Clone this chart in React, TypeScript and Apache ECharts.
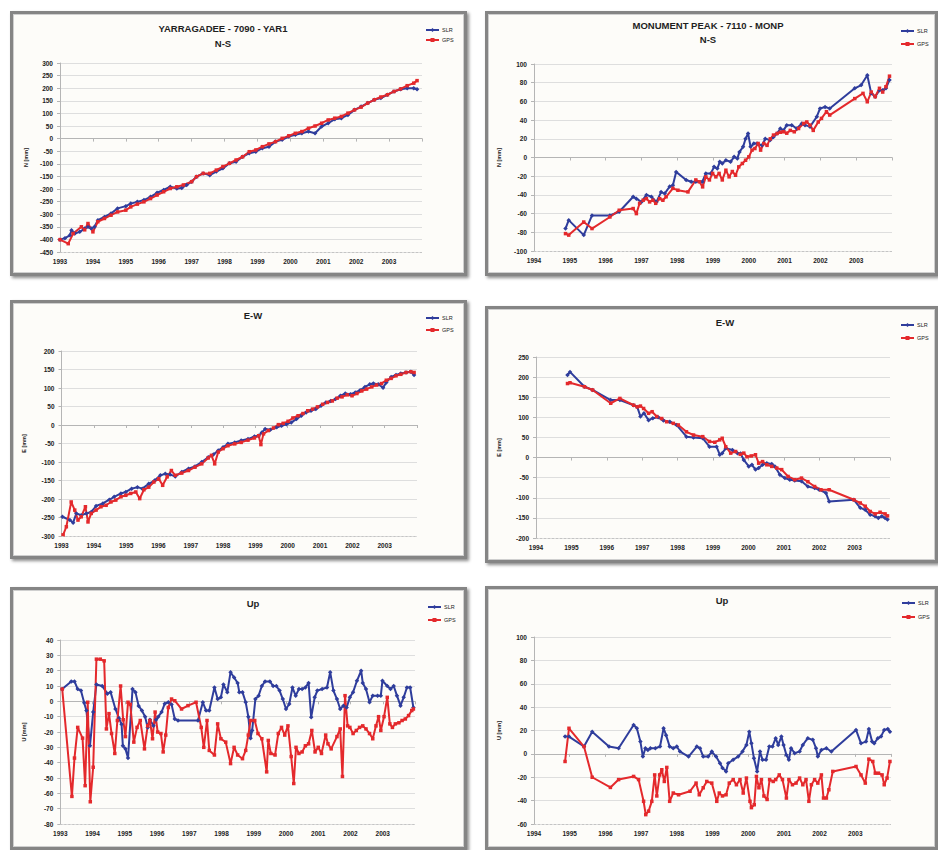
import React, { useEffect, useRef } from "react";
import * as echarts from "echarts";

// ---------- DATA ----------
const seriesNames = ["SLR", "GPS"];

const yarNsSlr = [[1993.0,-401],[1993.15,-395],[1993.3,-384],[1993.35,-364],[1993.45,-377],[1993.6,-370],[1993.75,-357],[1993.85,-350],[1993.95,-357],[1994.05,-350],[1994.15,-324],[1994.35,-311],[1994.55,-297],[1994.75,-277],[1995.0,-268],[1995.15,-258],[1995.35,-251],[1995.55,-244],[1995.75,-231],[1995.95,-215],[1996.15,-204],[1996.35,-191],[1996.55,-198],[1996.7,-196],[1996.85,-184],[1997.0,-171],[1997.15,-151],[1997.35,-138],[1997.55,-145],[1997.75,-131],[1997.95,-118],[1998.15,-98],[1998.35,-92],[1998.55,-72],[1998.75,-58],[1998.95,-52],[1999.15,-38],[1999.35,-32],[1999.55,-12],[1999.75,-5],[1999.95,8],[2000.15,15],[2000.35,21],[2000.55,28],[2000.75,21],[2000.95,48],[2001.15,61],[2001.35,77],[2001.55,81],[2001.75,94],[2001.95,114],[2002.15,127],[2002.35,141],[2002.55,154],[2002.75,161],[2002.95,174],[2003.15,187],[2003.35,196],[2003.55,200],[2003.75,200],[2003.85,196]];
const yarNsGps = [[1993.0,-401],[1993.25,-417],[1993.4,-377],[1993.65,-350],[1993.75,-362],[1993.85,-337],[1994.0,-370],[1994.15,-330],[1994.35,-317],[1994.55,-304],[1994.75,-291],[1995.0,-284],[1995.15,-271],[1995.35,-260],[1995.55,-251],[1995.75,-238],[1995.95,-224],[1996.15,-211],[1996.35,-198],[1996.55,-191],[1996.75,-184],[1997.0,-171],[1997.15,-151],[1997.35,-138],[1997.55,-138],[1997.75,-125],[1997.95,-111],[1998.15,-98],[1998.35,-85],[1998.55,-72],[1998.75,-52],[1998.95,-45],[1999.15,-32],[1999.35,-21],[1999.55,-12],[1999.75,1],[1999.95,11],[2000.15,21],[2000.35,28],[2000.55,41],[2000.75,50],[2000.95,61],[2001.15,74],[2001.35,81],[2001.55,88],[2001.75,101],[2001.95,114],[2002.15,125],[2002.35,141],[2002.55,154],[2002.75,165],[2002.95,174],[2003.15,187],[2003.35,197],[2003.55,210],[2003.75,220],[2003.85,230]];

const monpNsSlr = [[1994.88,-76],[1994.97,-67],[1995.39,-83],[1995.62,-62],[1996.12,-62],[1996.38,-58],[1996.77,-42],[1996.86,-44],[1997.0,-47.5],[1997.14,-40],[1997.28,-42],[1997.42,-47.5],[1997.55,-37],[1997.65,-38.6],[1997.79,-31],[1997.88,-29.6],[1997.97,-15.4],[1998.25,-24],[1998.39,-26],[1998.52,-26],[1998.7,-26],[1998.8,-17],[1998.94,-17],[1999.03,-10],[1999.12,-11.8],[1999.19,-4.6],[1999.26,-6.4],[1999.36,-2.9],[1999.49,-4.6],[1999.59,0.7],[1999.68,-1],[1999.74,6],[1999.84,11.4],[1999.91,20],[1999.98,25.7],[2000.05,11.4],[2000.14,15],[2000.23,15],[2000.37,13],[2000.46,20],[2000.6,18.6],[2000.69,22],[2000.79,25.7],[2000.88,31],[2000.97,29],[2001.06,34.6],[2001.2,34.6],[2001.34,31],[2001.48,36.4],[2001.57,34.6],[2001.71,33],[2001.9,43.6],[2001.99,52.5],[2002.13,54],[2002.26,52.5],[2002.96,74],[2003.14,77.5],[2003.31,88],[2003.42,68.6],[2003.53,65],[2003.65,72],[2003.74,72],[2003.83,74],[2003.93,83]];
const monpNsGps = [[1994.88,-81.4],[1994.97,-83],[1995.39,-69],[1995.62,-76],[1996.12,-63.6],[1996.38,-56.4],[1996.77,-54.6],[1996.86,-60],[1996.95,-49],[1997.05,-45.7],[1997.14,-44],[1997.23,-47.5],[1997.32,-45.7],[1997.4,-49],[1997.51,-44],[1997.6,-45.7],[1997.69,-42],[1997.88,-33],[1998.02,-35],[1998.3,-36.8],[1998.52,-24],[1998.62,-26],[1998.71,-31.4],[1998.8,-20.7],[1998.9,-24],[1998.99,-17],[1999.08,-20.7],[1999.17,-17],[1999.26,-24],[1999.36,-13.6],[1999.45,-20.7],[1999.54,-15],[1999.63,-19],[1999.72,-10],[1999.82,-6.4],[1999.91,-2.9],[2000.0,0.7],[2000.09,7.9],[2000.17,9.6],[2000.26,15],[2000.33,7.9],[2000.42,15],[2000.51,13],[2000.6,20],[2000.69,24],[2000.79,25.7],[2000.88,27],[2000.97,27.5],[2001.06,26],[2001.16,29],[2001.27,27.5],[2001.39,31],[2001.53,36.4],[2001.62,38],[2001.71,34.6],[2001.8,29],[2001.94,38],[2002.03,41.8],[2002.17,49],[2002.26,45.4],[2002.96,63],[2003.19,68.6],[2003.31,59.6],[2003.42,70],[2003.53,65],[2003.65,74],[2003.74,70],[2003.83,75.7],[2003.93,87]];

const yarEwSlr = [[1993.03,-248],[1993.26,-257],[1993.36,-264],[1993.46,-239],[1993.61,-244],[1993.77,-239],[1993.92,-235],[1994.07,-219],[1994.28,-212],[1994.48,-202],[1994.63,-194],[1994.84,-185],[1994.99,-181],[1995.17,-172],[1995.35,-168],[1995.5,-172],[1995.7,-159],[1995.88,-150],[1996.06,-136],[1996.21,-132],[1996.36,-134],[1996.52,-139],[1996.72,-127],[1996.93,-118],[1997.13,-112],[1997.34,-100],[1997.54,-87],[1997.7,-80],[1997.85,-69],[1998.0,-60],[1998.15,-51],[1998.36,-47],[1998.56,-42],[1998.77,-38],[1998.97,-31],[1999.1,-29],[1999.2,-20],[1999.3,-11],[1999.46,-13],[1999.66,-6],[1999.81,-2],[1999.96,2],[2000.11,7],[2000.27,16],[2000.42,25],[2000.57,34],[2000.72,38.5],[2000.87,43],[2001.03,52],[2001.18,61],[2001.33,65],[2001.48,70],[2001.63,79],[2001.78,85],[2001.94,83],[2002.09,88],[2002.24,94],[2002.39,103],[2002.54,110],[2002.65,112],[2002.8,110],[2002.95,101],[2003.05,115],[2003.2,130],[2003.35,135],[2003.5,139],[2003.66,142],[2003.81,144],[2003.91,135]];
const yarEwGps = [[1993.05,-297],[1993.15,-275],[1993.3,-208],[1993.41,-230],[1993.51,-257],[1993.61,-248],[1993.74,-221],[1993.82,-262],[1993.92,-239],[1994.07,-230],[1994.22,-221],[1994.38,-217],[1994.53,-208],[1994.68,-203],[1994.84,-194],[1994.99,-190],[1995.14,-185],[1995.3,-181],[1995.42,-199],[1995.55,-175],[1995.7,-168],[1995.86,-154],[1996.01,-145],[1996.13,-163],[1996.27,-140],[1996.4,-123],[1996.52,-136],[1996.72,-130],[1996.93,-123],[1997.13,-114],[1997.34,-105],[1997.54,-89],[1997.64,-82],[1997.74,-105],[1997.85,-73],[1998.0,-64],[1998.15,-56],[1998.36,-51],[1998.56,-47],[1998.77,-41],[1998.97,-35],[1999.1,-29],[1999.17,-53],[1999.25,-24],[1999.4,-15],[1999.56,-8],[1999.71,1],[1999.86,4.5],[2000.01,10],[2000.16,19],[2000.32,25],[2000.47,31],[2000.62,38.5],[2000.77,43],[2000.92,49],[2001.08,56],[2001.23,61],[2001.38,65],[2001.53,72.6],[2001.68,76],[2001.84,81.5],[2001.99,79],[2002.14,85],[2002.29,92],[2002.44,97],[2002.6,103],[2002.75,108],[2002.9,112],[2003.05,121],[2003.2,126],[2003.35,133],[2003.5,137],[2003.66,142],[2003.81,144],[2003.91,142]];

const monpEwSlr = [[1994.89,205],[1994.96,213],[1995.37,176],[1995.6,168],[1996.11,143],[1996.37,143],[1996.76,130],[1996.86,126],[1996.95,102],[1997.05,110],[1997.18,93],[1997.3,98],[1997.45,100],[1997.6,92],[1997.78,89],[1997.97,81],[1998.25,52],[1998.45,50],[1998.71,48],[1998.9,27],[1999.1,27],[1999.19,7],[1999.26,11],[1999.36,23],[1999.55,19],[1999.69,11],[1999.78,10],[1999.87,-6],[2000.01,-22],[2000.1,-18],[2000.2,-30],[2000.29,-26],[2000.4,-18],[2000.52,-14],[2000.66,-16],[2000.75,-22],[2000.89,-43],[2001.03,-51],[2001.17,-55],[2001.31,-57],[2001.5,-59],[2001.68,-72],[2001.87,-76],[2002.0,-80],[2002.19,-88],[2002.28,-109],[2002.98,-105],[2003.16,-125],[2003.3,-130],[2003.44,-142],[2003.58,-146],[2003.67,-150],[2003.77,-146],[2003.86,-150],[2003.93,-154]];
const monpEwGps = [[1994.89,184],[1994.96,186],[1995.37,176],[1995.6,168],[1996.11,135],[1996.37,147],[1996.76,130],[1996.86,126],[1996.95,128],[1997.04,122],[1997.18,110],[1997.28,114],[1997.41,102],[1997.55,97],[1997.69,89],[1997.88,85],[1998.02,81],[1998.25,64],[1998.45,56],[1998.71,52],[1998.9,40],[1999.05,38],[1999.19,44],[1999.26,48],[1999.36,27],[1999.5,11],[1999.64,15],[1999.77,8],[1999.87,11],[1999.96,2],[2000.08,4],[2000.2,7],[2000.29,-14],[2000.4,-10],[2000.52,-18],[2000.66,-22],[2000.8,-26],[2000.94,-30],[2001.12,-47],[2001.31,-55],[2001.5,-51],[2001.68,-60],[2001.87,-72],[2002.05,-80],[2002.28,-80],[2002.98,-105],[2003.16,-113],[2003.3,-121],[2003.44,-134],[2003.58,-140],[2003.72,-136],[2003.86,-140],[2003.93,-145]];

const yarUpSlr = [[1993.06,8],[1993.34,13],[1993.44,13],[1993.54,8],[1993.64,7],[1993.74,-1],[1993.81,-6],[1993.92,-29],[1994.02,-7],[1994.12,11],[1994.3,10],[1994.46,5],[1994.56,6],[1994.71,-5],[1994.82,-11],[1994.9,-15],[1994.94,-29],[1995.02,-31],[1995.1,-37],[1995.24,8],[1995.33,6],[1995.43,-3],[1995.53,-6],[1995.63,-10],[1995.71,-17],[1995.78,-12],[1995.89,-16],[1995.97,-12],[1996.04,-10],[1996.14,-7],[1996.24,-1.5],[1996.35,-0.6],[1996.45,-2],[1996.55,-11.5],[1996.65,-12.5],[1997.27,-12.5],[1997.42,-0.6],[1997.52,-6],[1997.62,-6],[1997.78,9],[1997.88,1.5],[1997.98,2.6],[1998.06,11],[1998.18,6],[1998.28,19],[1998.39,15.5],[1998.5,12],[1998.55,6],[1998.65,6],[1998.75,-0.6],[1998.83,-10],[1998.9,-24],[1998.95,-19],[1999.05,1.5],[1999.15,3.7],[1999.25,10],[1999.35,13],[1999.5,13],[1999.6,10],[1999.7,10],[1999.8,7],[1999.9,1.5],[2000.0,-5],[2000.1,-1.7],[2000.2,9],[2000.3,3.7],[2000.4,8],[2000.5,8],[2000.6,9],[2000.7,12],[2000.78,-10.4],[2000.89,2.6],[2000.97,7],[2001.12,8],[2001.27,9],[2001.37,19],[2001.47,7],[2001.58,1.5],[2001.68,-5],[2001.78,-2.8],[2001.88,-4],[2001.98,2.6],[2002.08,6],[2002.2,13.4],[2002.33,20],[2002.38,12],[2002.48,8],[2002.59,-0.6],[2002.69,3.7],[2002.84,3.7],[2002.94,3.7],[2002.99,13.4],[2003.14,10],[2003.24,8],[2003.34,10],[2003.44,3.7],[2003.55,-2.8],[2003.65,2.6],[2003.75,9],[2003.85,9],[2003.95,-4]];
const yarUpGps = [[1993.06,8],[1993.36,-62],[1993.44,-37],[1993.54,-17],[1993.69,-24],[1993.77,-55],[1993.85,-0.6],[1993.93,-65.5],[1994.02,-43],[1994.12,27.5],[1994.24,27.5],[1994.36,26.4],[1994.43,-18],[1994.51,-8],[1994.59,-21],[1994.69,-34],[1994.77,-12.5],[1994.87,10],[1994.95,-12],[1995.02,-23],[1995.1,-0.6],[1995.17,-2],[1995.28,-26.6],[1995.38,-17],[1995.48,-12.5],[1995.61,-31],[1995.71,-16],[1995.78,-12.5],[1995.86,-24.4],[1995.94,-7],[1996.02,-20],[1996.12,-21],[1996.19,-33],[1996.27,-22],[1996.35,-4],[1996.45,1.5],[1996.55,0.4],[1996.76,-5],[1996.96,-2.8],[1997.21,-0.6],[1997.37,-17],[1997.45,-30],[1997.55,-12.5],[1997.62,-32],[1997.78,-35],[1997.88,-14.7],[1997.98,-24.4],[1998.13,-26.6],[1998.28,-40.6],[1998.39,-30],[1998.5,-35],[1998.65,-37.4],[1998.75,-32],[1998.83,-22],[1998.9,-12.5],[1999.03,-12.5],[1999.13,-21],[1999.25,-24.4],[1999.4,-46],[1999.45,-25.5],[1999.53,-34],[1999.66,-35],[1999.76,-21],[1999.86,-17],[1999.96,-22],[2000.06,-16],[2000.16,-36],[2000.24,-53.6],[2000.31,-30],[2000.4,-34],[2000.5,-33],[2000.6,-29],[2000.7,-27.7],[2000.8,-19],[2000.9,-33],[2001.0,-30],[2001.1,-34],[2001.23,-22],[2001.3,-27.7],[2001.4,-31],[2001.58,-23],[2001.68,-18],[2001.75,-49],[2001.83,3.7],[2001.91,-16],[2001.98,-17],[2002.08,-21],[2002.18,-19],[2002.28,-17],[2002.38,-16],[2002.48,-18],[2002.59,-21],[2002.69,-24.4],[2002.79,-16],[2002.87,-10],[2002.94,-19],[2003.04,-10],[2003.14,2.6],[2003.22,-14.7],[2003.3,-17],[2003.39,-14.7],[2003.5,-14],[2003.6,-12.5],[2003.7,-11.5],[2003.8,-9.3],[2003.9,-6],[2003.95,-5]];

const monpUpSlr = [[1994.87,14.8],[1994.98,14.8],[1995.4,6.3],[1995.63,19],[1996.1,6.3],[1996.37,4.8],[1996.79,24.7],[1996.88,21.9],[1996.98,10.5],[1997.05,-2.3],[1997.12,4.8],[1997.19,3.4],[1997.26,4.8],[1997.4,4.8],[1997.53,6.3],[1997.63,21.9],[1997.7,16],[1997.8,6.3],[1997.9,4.8],[1998.0,6.3],[1998.09,2],[1998.33,-2.3],[1998.56,6.3],[1998.65,4.8],[1998.74,-2.3],[1998.88,-2.3],[1998.98,2],[1999.1,-2.3],[1999.21,-8],[1999.28,-12],[1999.38,-15],[1999.44,-8],[1999.58,-5],[1999.72,-2.3],[1999.84,2],[1999.95,7.7],[2000.03,19],[2000.09,9],[2000.16,-3.7],[2000.25,-15],[2000.33,2],[2000.4,-5],[2000.5,-5],[2000.59,6.3],[2000.68,6.3],[2000.77,13.4],[2000.84,7.7],[2000.93,14.8],[2000.99,7.7],[2001.07,-1],[2001.14,-5],[2001.2,4.8],[2001.3,0.6],[2001.44,2],[2001.53,7.7],[2001.67,13.4],[2001.81,12],[2001.9,4.8],[2001.95,-2.3],[2002.05,3.4],[2002.19,4.8],[2002.33,2],[2003.02,20.5],[2003.16,9],[2003.3,10.5],[2003.38,21.3],[2003.47,10.5],[2003.53,9],[2003.63,13.4],[2003.72,14.8],[2003.81,20.5],[2003.91,21.3],[2003.97,19]];
const monpUpGps = [[1994.87,-6.5],[1994.98,21.9],[1995.4,6.3],[1995.63,-20],[1996.14,-28.7],[1996.37,-22],[1996.79,-19.3],[1996.93,-22],[1997.07,-40.6],[1997.13,-52],[1997.21,-49],[1997.3,-40.6],[1997.38,-18],[1997.44,-36],[1997.52,-18],[1997.58,-13.6],[1997.65,-23.6],[1997.72,-11.6],[1997.8,-40.6],[1997.9,-33.5],[1998.05,-35],[1998.37,-32],[1998.54,-25],[1998.63,-35],[1998.74,-29],[1998.84,-23.6],[1998.98,-25],[1999.12,-40.6],[1999.19,-33.5],[1999.28,-36],[1999.38,-35],[1999.47,-25],[1999.58,-22],[1999.67,-26.4],[1999.77,-22],[1999.86,-33.5],[1999.95,-20.7],[2000.05,-40.6],[2000.09,-46],[2000.17,-43.5],[2000.23,-19.3],[2000.3,-29],[2000.37,-22],[2000.44,-36],[2000.53,-39],[2000.6,-22],[2000.7,-23.6],[2000.77,-22],[2000.87,-18],[2000.96,-22],[2001.07,-37.8],[2001.14,-22],[2001.24,-26.4],[2001.34,-25],[2001.44,-20.7],[2001.53,-26.4],[2001.62,-22],[2001.7,-40.6],[2001.77,-26.4],[2001.86,-22],[2001.95,-25],[2002.05,-18],[2002.11,-37.8],[2002.19,-37.8],[2002.26,-30.7],[2002.37,-15],[2003.02,-10.8],[2003.16,-18],[2003.28,-25],[2003.38,-4.5],[2003.49,-6.5],[2003.56,-16.5],[2003.65,-16.5],[2003.75,-18],[2003.81,-26.4],[2003.89,-20.7],[2003.97,-6.5]];

// axis ranges: [min, max, interval]
const yarX = [1993, 2004];
const monpX = [1994, 2004];
const yRangeYarNs = [-450, 300, 50];
const yRangeMonpNs = [-100, 100, 20];
const yRangeYarEw = [-300, 200, 50];
const yRangeMonpEw = [-200, 250, 50];
const yRangeYarUp = [-80, 40, 10];
const yRangeMonpUp = [-60, 100, 20];

// ---------- STYLE / LAYOUT ----------
const BLUE = "#2f3d9c";
const RED = "#e4292c";
const FONT = "'Liberation Sans', Arial, sans-serif";
const B = 3; // frame border width

type Panel = {
  box: number[];
  plot: number[];
  title: string;
  titleX: number;
  titleY: number;
  titleLH: number;
  legX: number;
  legY: number;
  legStep: number;
  yNameX: number;
  yName: string;
  xr: number[];
  yr: number[];
  slr: number[][];
  gps: number[][];
};

const panels: Panel[] = [
  { box: [10, 11, 457, 265], plot: [60, 63, 422, 252], title: "YARRAGADEE - 7090 - YAR1\nN-S", titleX: 223, titleY: 28, titleLH: 15, legX: 425, legY: 31, legStep: 12, yNameX: 28, yName: "N [mm]", xr: yarX, yr: yRangeYarNs, slr: yarNsSlr, gps: yarNsGps },
  { box: [485, 11, 453, 265], plot: [532, 64, 892, 251], title: "MONUMENT PEAK - 7110 - MONP\nN-S", titleX: 708, titleY: 25, titleLH: 14, legX: 900, legY: 32, legStep: 15, yNameX: 497, yName: "N [mm]", xr: monpX, yr: yRangeMonpNs, slr: monpNsSlr, gps: monpNsGps },
  { box: [10, 300, 457, 259], plot: [59.5, 351, 417, 536], title: "E-W", titleX: 253, titleY: 315, titleLH: 14, legX: 425, legY: 319, legStep: 14, yNameX: 22, yName: "E [mm]", xr: yarX, yr: yRangeYarEw, slr: yarEwSlr, gps: yarEwGps },
  { box: [485, 306, 453, 257], plot: [532, 357, 890, 538], title: "E-W", titleX: 725, titleY: 322, titleLH: 14, legX: 900, legY: 326, legStep: 15, yNameX: 495, yName: "E [mm]", xr: monpX, yr: yRangeMonpEw, slr: monpEwSlr, gps: monpEwGps },
  { box: [10, 587, 457, 263], plot: [59.3, 640, 415, 824], title: "Up", titleX: 253, titleY: 603, titleLH: 14, legX: 427, legY: 608, legStep: 15, yNameX: 23, yName: "U [mm]", xr: yarX, yr: yRangeYarUp, slr: yarUpSlr, gps: yarUpGps },
  { box: [485, 586, 453, 264], plot: [532, 637, 891, 824], title: "Up", titleX: 722, titleY: 600, titleLH: 14, legX: 901, legY: 604, legStep: 16, yNameX: 497, yName: "U [mm]", xr: monpX, yr: yRangeMonpUp, slr: monpUpSlr, gps: monpUpGps },
];

function buildOption(p: Panel) {
  const ox = p.box[0] + B;
  const oy = p.box[1] + B;
  const [x1, y1, x2, y2] = p.plot;
  const axisGrey = "#b5b5b5";
  return {
    animation: false,
    textStyle: { fontFamily: FONT },
    title: {
      text: p.title,
      left: p.titleX - ox,
      top: p.titleY - p.titleLH / 2 - oy,
      textAlign: "center",
      padding: 0,
      textStyle: { fontSize: 9.5, fontWeight: "bold", color: "#1f1f1f", lineHeight: p.titleLH, fontFamily: FONT },
    },
    legend: {
      data: seriesNames,
      orient: "vertical",
      left: p.legX - ox,
      top: p.legY - 4 - oy,
      padding: 0,
      itemWidth: 13,
      itemHeight: 5,
      itemGap: p.legStep - 8,
      textStyle: { fontSize: 5.5, color: "#222", fontFamily: FONT, padding: [0, 0, 0, -2] },
    },
    grid: { left: x1 - ox, top: y1 - oy, width: x2 - x1, height: y2 - y1 },
    xAxis: [
      {
        type: "value",
        min: p.xr[0],
        max: p.xr[1],
        interval: 1,
        axisLine: { show: false, onZero: false },
        axisTick: { show: false },
        splitLine: { show: false },
        axisLabel: {
          fontSize: 6.5,
          color: "#222",
          fontWeight: "bold",
          margin: 6,
          fontFamily: FONT,
          formatter: (v: number) => (v >= p.xr[1] ? "" : String(v)),
        },
      },
      {
        type: "value",
        min: p.xr[0],
        max: p.xr[1],
        interval: 1,
        position: "bottom",
        axisLine: { show: true, onZero: true, onZeroAxisIndex: 0, lineStyle: { color: axisGrey, width: 1 } },
        axisTick: { show: true, length: 3, lineStyle: { color: axisGrey } },
        axisLabel: { show: false },
        splitLine: { show: false },
      },
    ],
    yAxis: {
      type: "value",
      min: p.yr[0],
      max: p.yr[1],
      interval: p.yr[2],
      name: p.yName,
      nameLocation: "middle",
      nameRotate: 90,
      nameGap: x1 - p.yNameX - 3,
      nameTextStyle: { fontSize: 5.5, fontWeight: "bold", color: "#222", fontFamily: FONT },
      axisLine: { show: true, onZero: false, lineStyle: { color: axisGrey } },
      axisTick: { show: true, length: 3, lineStyle: { color: axisGrey } },
      axisLabel: { fontSize: 6.5, color: "#222", fontWeight: "bold", margin: 7, fontFamily: FONT },
      splitLine: { show: true, lineStyle: { color: "#dedede", width: 1 } },
    },
    series: [
      {
        name: "SLR",
        type: "line",
        xAxisIndex: 0,
        data: p.slr,
        symbol: "diamond",
        symbolSize: 4.5,
        showAllSymbol: true,
        lineStyle: { color: BLUE, width: 2 },
        itemStyle: { color: BLUE },
      },
      {
        name: "GPS",
        type: "line",
        xAxisIndex: 0,
        data: p.gps,
        symbol: "rect",
        symbolSize: 3.5,
        showAllSymbol: true,
        lineStyle: { color: RED, width: 2 },
        itemStyle: { color: RED },
        markLine: {
          silent: true,
          symbol: "none",
          label: { show: false },
          lineStyle: { color: "#c4c4c4", type: [2, 2], width: 1 },
          data: [{ yAxis: p.yr[0] }],
        },
      },
    ],
  };
}

function ChartPanel({ p }: { p: Panel }) {
  const ref = useRef<HTMLDivElement>(null);
  useEffect(() => {
    if (!ref.current) return;
    const chart = echarts.init(ref.current, null, { renderer: "svg" });
    chart.setOption(buildOption(p) as any);
    return () => chart.dispose();
  }, [p]);
  const [l, t, w, h] = p.box;
  return (
    <div
      style={{
        position: "absolute",
        left: l,
        top: t,
        width: w,
        height: h,
        boxSizing: "border-box",
        border: `${B}px solid #858585`,
        boxShadow: "2px 2px 3px rgba(0,0,0,0.45), inset 0 0 0 1px #cfcfcf",
        background: "#fdfcf9",
      }}
    >
      <div ref={ref} style={{ width: w - 2 * B, height: h - 2 * B }} />
    </div>
  );
}

export default function App() {
  return (
    <div style={{ position: "absolute", left: 0, top: 0, width: 938, height: 850, background: "#ffffff", overflow: "hidden" }}>
      {panels.map((p, i) => (
        <ChartPanel key={i} p={p} />
      ))}
    </div>
  );
}
